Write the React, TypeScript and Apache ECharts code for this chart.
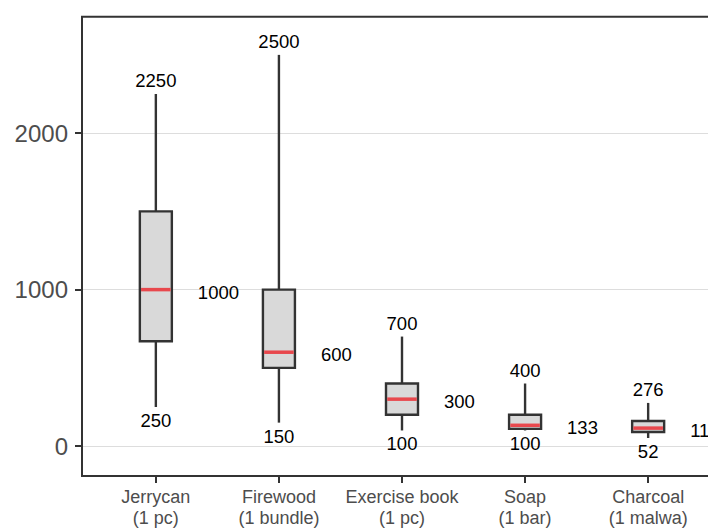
import React, { useEffect, useRef } from "react";
import * as echarts from "echarts";

const categories = ["Jerrycan\n(1 pc)", "Firewood\n(1 bundle)", "Exercise book\n(1 pc)", "Soap\n(1 bar)", "Charcoal\n(1 malwa)"];
const mins = [250, 150, 100, 100, 52];
const q1s = [670, 500, 200, 110, 90];
const medians = [1000, 600, 300, 133, 115];
const q3s = [1500, 1000, 400, 200, 160];
const maxs = [2250, 2500, 700, 400, 276];
const yTicks = [0, 1000, 2000];

const FONT = "'Liberation Sans', Arial, Helvetica, sans-serif";

export default function App() {
  const ref = useRef<HTMLDivElement>(null);
  useEffect(() => {
    if (!ref.current) return;
    const chart = echarts.init(ref.current, null, { renderer: "svg" });
    const data = categories.map((_, i) => [i, mins[i], q1s[i], medians[i], q3s[i], maxs[i]]);
    const half = 16;
    chart.setOption({
      animation: false,
      backgroundColor: "#ffffff",
      textStyle: { fontFamily: FONT },
      grid: {
        left: 82,
        top: 16.7,
        right: 0,
        bottom: 51.3,
        show: true,
        borderColor: "#333333",
        borderWidth: 2,
        backgroundColor: "transparent",
        z: 5,
      },
      xAxis: {
        type: "value",
        min: -0.6,
        max: 4.6,
        splitLine: { show: false },
        axisLine: { show: false, onZero: false },
        axisTick: {
          show: true,
          customValues: [0, 1, 2, 3, 4],
          length: 7,
          lineStyle: { color: "#333333", width: 2 },
        },
        axisLabel: {
          customValues: [0, 1, 2, 3, 4],
          formatter: (v: number) => categories[Math.round(v)] ?? "",
          color: "#4D4D4D",
          fontSize: 18,
          lineHeight: 21,
          margin: 10,
          fontFamily: FONT,
        },
      },
      yAxis: {
        type: "value",
        min: -191,
        max: 2744,
        splitLine: { show: false },
        axisLine: { show: false, onZero: false },
        axisTick: {
          show: true,
          customValues: yTicks,
          length: 7,
          lineStyle: { color: "#333333", width: 2 },
        },
        axisLabel: {
          customValues: yTicks,
          formatter: (v: number) => String(v),
          color: "#4D4D4D",
          fontSize: 24,
          margin: 14,
          fontFamily: FONT,
        },
      },
      series: [
        {
          type: "line",
          data: [],
          silent: true,
          z: 0,
          markLine: {
            silent: true,
            symbol: "none",
            z: 0,
            label: { show: false },
            lineStyle: { color: "#DDDDDD", width: 1, type: "solid" },
            data: yTicks.map((v) => ({ yAxis: v })),
          },
        },
        {
          type: "custom",
          clip: false,
          z: 10,
          data,
          renderItem: (params: any, api: any) => {
            const x = api.value(0);
            const pMin = api.coord([x, api.value(1)]);
            const pQ1 = api.coord([x, api.value(2)]);
            const pMed = api.coord([x, api.value(3)]);
            const pQ3 = api.coord([x, api.value(4)]);
            const pMax = api.coord([x, api.value(5)]);
            const cx = pMed[0];
            const stroke = { stroke: "#333333", lineWidth: 2.4 };
            const txt = (x0: number, y0: number, s: string, align: string) => ({
              type: "text",
              x: x0,
              y: y0,
              style: {
                text: s,
                fill: "#000000",
                fontSize: 18.5,
                fontFamily: FONT,
                align,
                verticalAlign: "middle",
              },
            });
            return {
              type: "group",
              children: [
                { type: "line", shape: { x1: cx, y1: pMax[1], x2: cx, y2: pQ3[1] }, style: stroke },
                { type: "line", shape: { x1: cx, y1: pQ1[1], x2: cx, y2: pMin[1] }, style: stroke },
                {
                  type: "rect",
                  shape: { x: cx - half, y: pQ3[1], width: half * 2, height: pQ1[1] - pQ3[1] },
                  style: { fill: "#D9D9D9", stroke: "#333333", lineWidth: 2.4 },
                },
                {
                  type: "line",
                  shape: { x1: cx - half + 1.2, y1: pMed[1], x2: cx + half - 1.2, y2: pMed[1] },
                  style: { stroke: "#E8484D", lineWidth: 3.5 },
                },
                txt(cx, pMax[1] - 13.5, String(api.value(5)), "center"),
                txt(cx, pMin[1] + 13.5, String(api.value(1)), "center"),
                txt(cx + 42, pMed[1] + 2.5, String(api.value(3)), "left"),
              ],
            };
          },
        },
      ],
    });
    return () => chart.dispose();
  }, []);
  return (
    <div
      ref={ref}
      style={{ position: "fixed", left: 0, top: 0, width: 722, height: 528, background: "#fff" }}
    />
  );
}
